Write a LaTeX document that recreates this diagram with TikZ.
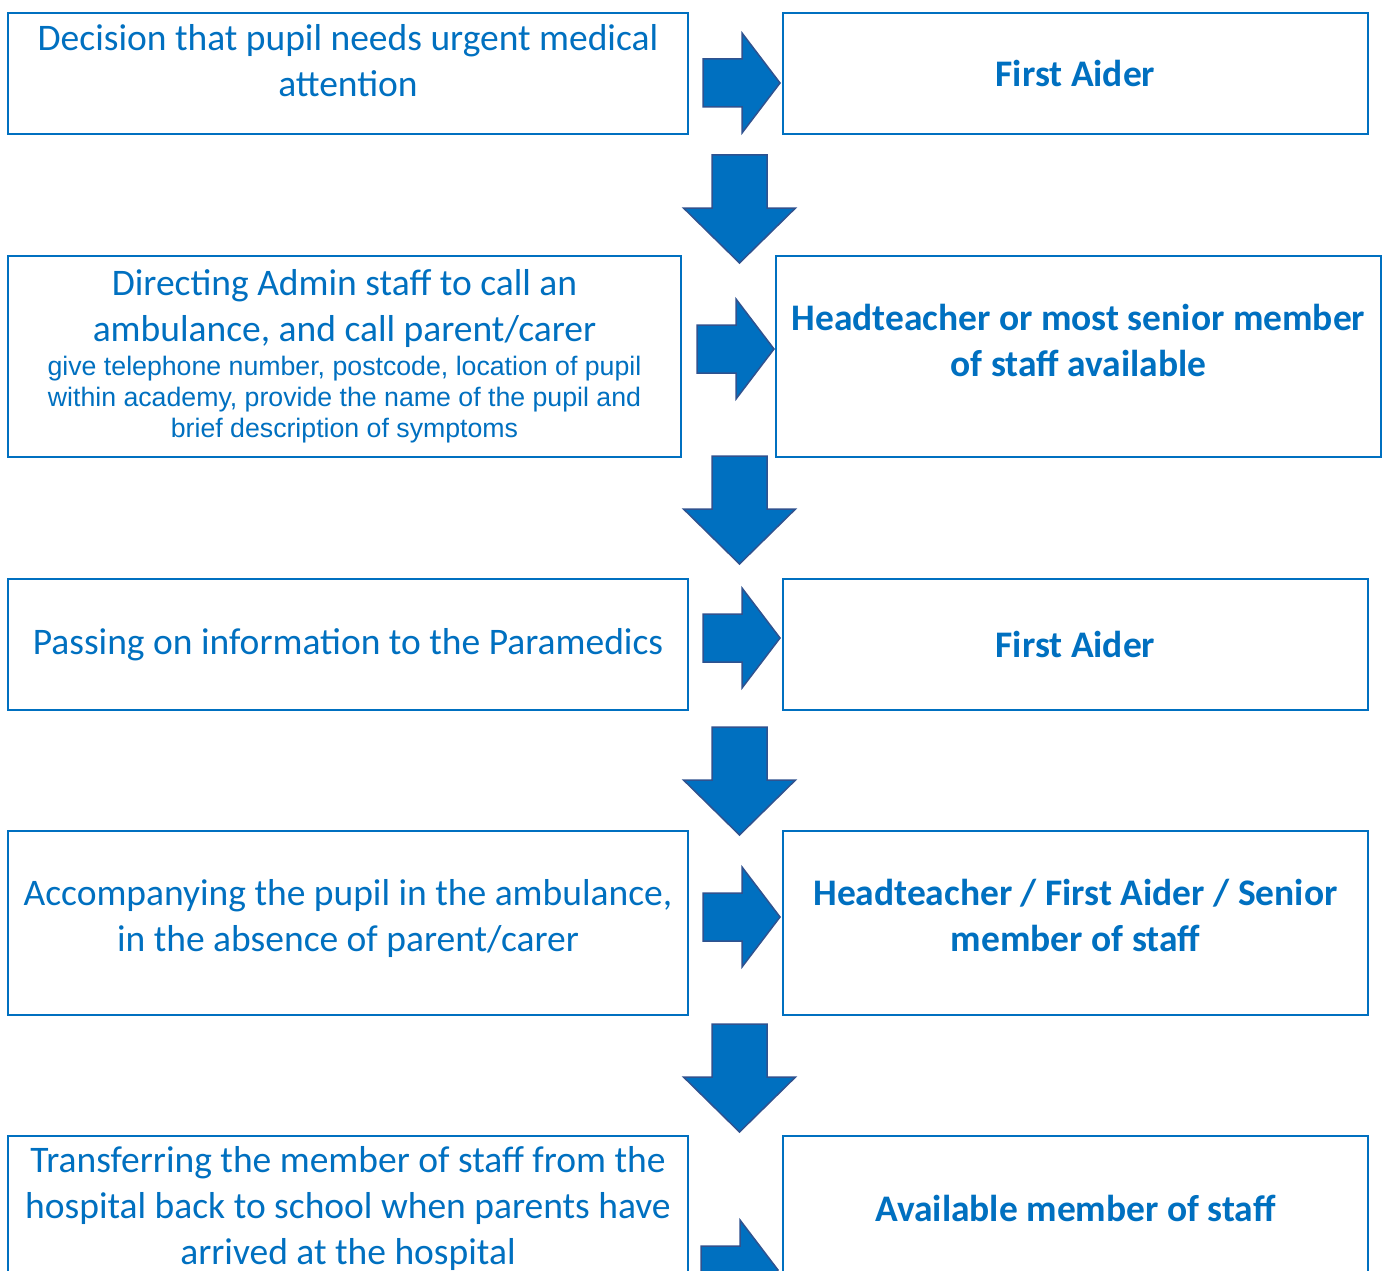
\documentclass[tikz,border=0pt]{standalone}
\usepackage{fontspec}
\setmainfont{Carlito}
\newfontfamily\arialfont{Liberation Sans}
\usetikzlibrary{positioning}
\definecolor{FlowBlue}{RGB}{0,112,192}
\definecolor{ArrowEdge}{RGB}{47,82,143}
\newcommand{\detailfont}{\arialfont\fontsize{26.7}{31}\selectfont}
\tikzset{
  blockfill/.style={fill=FlowBlue,draw=ArrowEdge,line width=1.5pt,line join=miter},
  pics/rarrow/.style={code={
    \path[blockfill] (0,-24) -- (39,-24) -- (39,-50) -- (77,0) -- (39,50) -- (39,24) -- (0,24) -- cycle;}},
  pics/darrow/.style={code={
    \path[blockfill] (-27.5,0) -- (27.5,0) -- (27.5,53) -- (56,53) -- (0,108) -- (-56,53) -- (-27.5,53) -- cycle;}},
}

\begin{document}
\begin{tikzpicture}[x=1pt,y=-1pt,
  stepbox/.style={draw=FlowBlue,line width=2pt,fill=white,inner sep=0pt,text=FlowBlue,
                  align=center,font=\fontsize{37.5}{46}\selectfont},
  who/.style={stepbox,font=\fontsize{37.5}{46}\selectfont\bfseries},
]
\useasboundingbox (0,0) rectangle (1384,1271);
\clip (0,0) rectangle (1384,1271);
% left column: the task
\node[stepbox,minimum width=680pt,minimum height=121pt] (task1) at (348,73.5)
  {Decision that pupil needs urgent medical\\attention\\[-19pt]};
\node[stepbox,minimum width=673pt,minimum height=201pt] (task2) at (344.5,356.5)
  {Directing Admin staff to call an\\ambulance, and call parent/carer\\[-12pt]
   \detailfont give telephone number, postcode, location of pupil\\[-15pt]
   \detailfont within academy, provide the name of the pupil and\\[-15pt]
   \detailfont brief description of symptoms\\[-40pt]};
\node[stepbox,minimum width=680pt,minimum height=131pt] (task3) at (348,644.5)
  {Passing on information to the Paramedics};
\node[stepbox,minimum width=680pt,minimum height=184pt] (task4) at (348,923)
  {Accompanying the pupil in the ambulance,\\in the absence of parent/carer\\[-30pt]};
\node[stepbox,minimum width=680pt,minimum height=144pt] (task5) at (348,1208)
  {Transferring the member of staff from the\\hospital back to school when parents have\\arrived at the hospital};
% right column: who does it
\node[who,minimum width=585pt,minimum height=121pt] (who1) at (1075.5,73.5) {First Aider};
\node[who,minimum width=605pt,minimum height=201pt] (who2) at (1078.5,356.5)
  {Headteacher or most senior member\\of staff available\\[-13pt]};
\node[who,minimum width=585pt,minimum height=131pt] (who3) at (1075.5,644.5) {First Aider};
\node[who,minimum width=585pt,minimum height=184pt] (who4) at (1075.5,923)
  {Headteacher / First Aider / Senior\\member of staff\\[-30pt]};
\node[who,minimum width=585pt,minimum height=144pt] (who5) at (1075.5,1208) {Available member of staff};
% block arrows
\pic at (703,83) {rarrow};
\pic at (697,349) {rarrow};
\pic at (703,638) {rarrow};
\pic at (703,917) {rarrow};
\pic at (701,1270) {rarrow};
\foreach \y in {155,456,727,1024}
  \pic at (739.5,\y) {darrow};
\end{tikzpicture}
\end{document}
